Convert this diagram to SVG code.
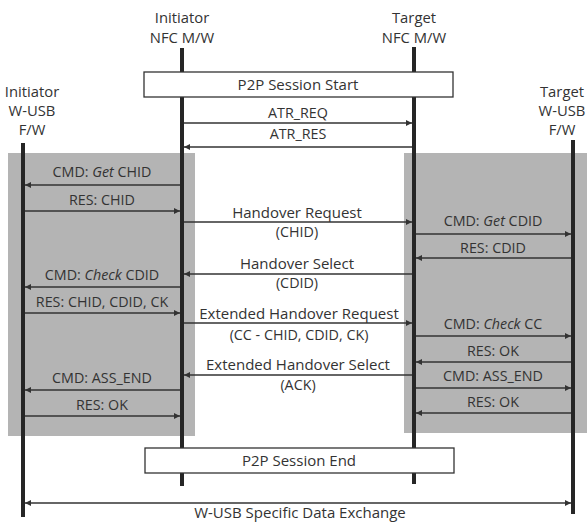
<svg xmlns="http://www.w3.org/2000/svg" width="587" height="523" viewBox="0 0 587 523">
<style>
text{font-family:"Open Sans","Noto Sans","Liberation Sans",sans-serif;fill:#333;text-anchor:middle}
.h{font-size:14.8px}
.m{font-size:15px}
.s{font-size:14.3px}
.life{stroke:#262626;stroke-width:4}
.msg{stroke:#333;stroke-width:1.6;fill:none;marker-end:url(#ah)}
.bar{fill:#fff;stroke:#333;stroke-width:1.3}
.shade{fill:#b4b4b4}
</style>
<defs>
<marker id="ah" viewBox="0 0 10 10" refX="10" refY="5" markerWidth="9" markerHeight="6" markerUnits="userSpaceOnUse" orient="auto-start-reverse">
<path d="M0,0 L10,5 L0,10 z" fill="#333"/>
</marker>
</defs>
<rect width="587" height="523" fill="#fff"/>
<g id="shading">
<rect class="shade" x="8" y="153" width="187" height="283"/>
<rect class="shade" x="404" y="153" width="183" height="280"/>
</g>
<g id="initiator-wusb">
<text class="h" x="32" y="97">Initiator</text>
<text class="h" x="32" y="116">W-USB</text>
<text class="h" x="32" y="135">F/W</text>
<line class="life" x1="23" y1="143" x2="23" y2="517"/>
</g>
<g id="initiator-nfc">
<text class="h" x="182" y="23">Initiator</text>
<text class="h" x="182" y="43">NFC M/W</text>
<line class="life" x1="182" y1="48" x2="182" y2="486"/>
</g>
<g id="target-nfc">
<text class="h" x="414" y="23">Target</text>
<text class="h" x="414" y="43">NFC M/W</text>
<line class="life" x1="414" y1="47" x2="414" y2="484"/>
</g>
<g id="target-wusb">
<text class="h" x="562" y="97">Target</text>
<text class="h" x="562" y="116">W-USB</text>
<text class="h" x="562" y="135">F/W</text>
<line class="life" x1="573" y1="140" x2="573" y2="514"/>
</g>
<g id="p2p-start">
<rect class="bar" x="144" y="72" width="309" height="25"/>
<text class="m" x="298" y="90">P2P Session Start</text>
</g>
<g id="p2p-end">
<rect class="bar" x="145" y="448" width="309" height="25"/>
<text class="m" x="299" y="466">P2P Session End</text>
</g>
<g id="connectors">
<line class="msg" x1="184" y1="123" x2="412" y2="123"/>
<line class="msg" x1="412" y1="147" x2="184" y2="147"/>
<line class="msg" x1="180" y1="185" x2="25" y2="185"/>
<line class="msg" x1="25" y1="211" x2="180" y2="211"/>
<line class="msg" x1="184" y1="222" x2="412" y2="222"/>
<line class="msg" x1="416" y1="234" x2="571" y2="234"/>
<line class="msg" x1="571" y1="258" x2="416" y2="258"/>
<line class="msg" x1="412" y1="274" x2="184" y2="274"/>
<line class="msg" x1="180" y1="287" x2="25" y2="287"/>
<line class="msg" x1="25" y1="313" x2="180" y2="313"/>
<line class="msg" x1="184" y1="323" x2="412" y2="323"/>
<line class="msg" x1="416" y1="336" x2="571" y2="336"/>
<line class="msg" x1="571" y1="362" x2="416" y2="362"/>
<line class="msg" x1="412" y1="375" x2="184" y2="375"/>
<line class="msg" x1="416" y1="388" x2="571" y2="388"/>
<line class="msg" x1="180" y1="390" x2="25" y2="390"/>
<line class="msg" x1="571" y1="413" x2="416" y2="413"/>
<line class="msg" x1="25" y1="416" x2="180" y2="416"/>
<line class="msg" x1="25" y1="503" x2="571" y2="503" style="marker-start:url(#ah)"/>
</g>
<g id="labels">
<text class="s" x="298" y="118">ATR_REQ</text>
<text class="s" x="298" y="139">ATR_RES</text>
<text class="s" x="102" y="177">CMD: <tspan font-style="italic">Get</tspan> CHID</text>
<text class="s" x="102" y="205">RES: CHID</text>
<text class="m" x="297" y="218">Handover Request</text>
<text class="s" x="297" y="237">(CHID)</text>
<text class="s" x="493" y="226">CMD: <tspan font-style="italic">Get</tspan> CDID</text>
<text class="s" x="493" y="253">RES: CDID</text>
<text class="m" x="297" y="269">Handover Select</text>
<text class="s" x="297" y="288">(CDID)</text>
<text class="s" x="102" y="280">CMD: <tspan font-style="italic">Check</tspan> CDID</text>
<text class="s" x="102" y="307">RES: CHID, CDID, CK</text>
<text class="m" x="299" y="319">Extended Handover Request</text>
<text class="s" x="299" y="340">(CC - CHID, CDID, CK)</text>
<text class="s" x="493" y="329">CMD: <tspan font-style="italic">Check</tspan> CC</text>
<text class="s" x="493" y="356">RES: OK</text>
<text class="m" x="298" y="370">Extended Handover Select</text>
<text class="s" x="298" y="390">(ACK)</text>
<text class="s" x="493" y="381">CMD: ASS_END</text>
<text class="s" x="102" y="383">CMD: ASS_END</text>
<text class="s" x="493" y="407">RES: OK</text>
<text class="s" x="102" y="410">RES: OK</text>
<text class="m" x="300" y="518">W-USB Specific Data Exchange</text>
</g>
</svg>
